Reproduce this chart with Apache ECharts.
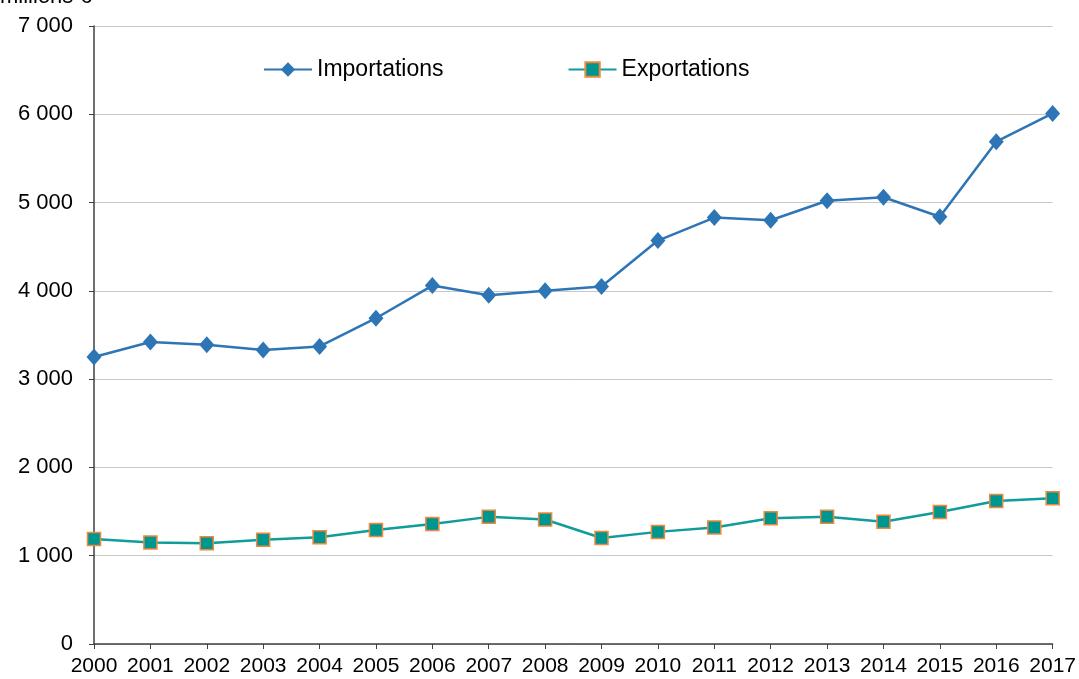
<!DOCTYPE html>
<html>
<head>
<meta charset="utf-8">
<script src="https://cdn.jsdelivr.net/npm/echarts@6/dist/echarts.min.js"></script>
<style>html,body{margin:0;padding:0;background:#fff;}#c{width:1079px;height:679px;}</style>
</head>
<body>
<div id="c"></div>
<script>
const years = ['2000','2001','2002','2003','2004','2005','2006','2007','2008','2009','2010','2011','2012','2013','2014','2015','2016','2017'];
const importations = [3250,3420,3390,3330,3370,3690,4060,3950,4000,4050,4570,4830,4800,5020,5060,4840,5690,6010];
const exportations = [1190,1150,1140,1180,1210,1290,1360,1440,1410,1200,1270,1320,1425,1440,1385,1495,1620,1650];
const unitLabel = 'millions €';

const chart = echarts.init(document.getElementById('c'));
const font = 'Liberation Sans, Arial, sans-serif';
chart.setOption({
  animation: false,
  backgroundColor: '#ffffff',
  textStyle: { fontFamily: font },
  graphic: [{
    type: 'text', left: 0, top: -14,
    style: { text: unitLabel, font: '22px ' + font, fill: '#000' }
  }],
  legend: {
    top: 53, left: 258, itemGap: 124, itemWidth: 48, itemHeight: 18,
    textStyle: { fontSize: 23, color: '#000', fontFamily: font },
    data: ['Importations', 'Exportations']
  },
  grid: { left: 94, right: 24, top: 26, bottom: 35, containLabel: false },
  xAxis: {
    type: 'category', data: years, boundaryGap: false,
    axisLine: { lineStyle: { color: '#404040', width: 1.5 } },
    axisTick: { show: true, length: 5, alignWithLabel: true, lineStyle: { color: '#404040' } },
    axisLabel: { fontSize: 21, color: '#000', margin: 12, interval: 0 },
    splitLine: { show: false }
  },
  yAxis: {
    type: 'value', min: 0, max: 7000, interval: 1000,
    axisLine: { show: true, lineStyle: { color: '#404040', width: 1.5 } },
    axisTick: { show: true, length: 5, lineStyle: { color: '#404040' } },
    axisLabel: { fontSize: 22, color: '#000', margin: 21,
      formatter: v => String(v).replace(/\B(?=(\d{3})+(?!\d))/g, ' ') },
    splitLine: { lineStyle: { color: '#c8c8c8', width: 1 } }
  },
  series: [
    {
      name: 'Importations', type: 'line', data: importations,
      symbol: 'diamond', symbolSize: [15, 17],
      lineStyle: { color: '#2E75B6', width: 2.5 },
      itemStyle: { color: '#2E75B6' }
    },
    {
      name: 'Exportations', type: 'line', data: exportations,
      symbol: 'rect', symbolSize: 13,
      lineStyle: { color: '#109C9A', width: 2.5 },
      itemStyle: { color: '#009690', borderColor: '#F0883A', borderWidth: 1.5 }
    }
  ]
});
</script>
</body>
</html>
